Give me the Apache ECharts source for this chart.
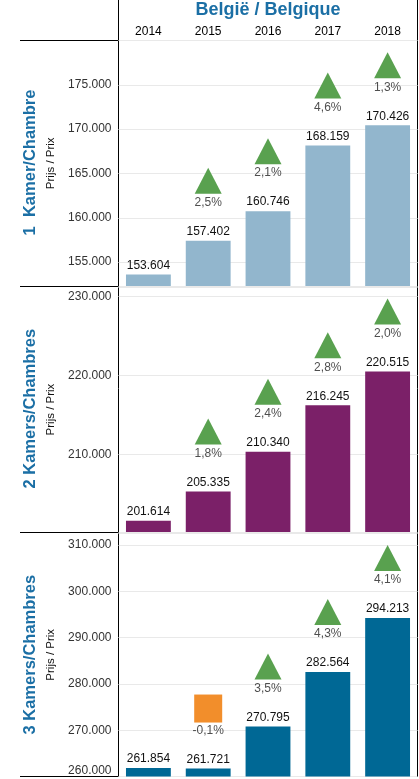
<!DOCTYPE html>
<html>
<head>
<meta charset="utf-8">
<script src="https://cdn.jsdelivr.net/npm/echarts@6/dist/echarts.min.js"></script>
<style>
html,body{margin:0;padding:0;background:#fff;}
#chart{width:419px;height:779px;}
</style>
</head>
<body>
<div id="chart"></div>
<script>
const title = 'België / Belgique';
const years = ['2014', '2015', '2016', '2017', '2018'];
const rowLabels = ['1  Kamer/Chambre', '2 Kamers/Chambres', '3 Kamers/Chambres'];
const axisName = 'Prijs / Prix';

const prices1 = [153604, 157402, 160746, 168159, 170426];
const prices2 = [201614, 205335, 210340, 216245, 220515];
const prices3 = [261854, 261721, 270795, 282564, 294213];

const change1 = [null, 2.5, 2.1, 4.6, 1.3];
const change2 = [null, 1.8, 2.4, 2.8, 2.0];
const change3 = [null, -0.1, 3.5, 4.3, 4.1];

const axisMin = [152300, 200200, 260000];
const axisMax = [180000, 231200, 312600];
const axisStep = [5000, 10000, 10000];

const prices = [prices1, prices2, prices3];
const changes = [change1, change2, change3];
const barColors = ['#92b6cd', '#7b2068', '#006895'];
const upColor = '#59a14f';
const downColor = '#f28e2b';
const titleColor = '#1b6fa5';
const FONT = '"Liberation Sans", Arial, sans-serif';

const panels = [
  {top: 40.5, bottom: 286},
  {top: 287, bottom: 532},
  {top: 533, bottom: 776.5}
];

function fmtNum(v) {
  return String(Math.round(v)).replace(/\B(?=(\d{3})+(?!\d))/g, '.');
}
function fmtPct(p) {
  return p.toFixed(1).replace('.', ',') + '%';
}

const grids = [], xAxes = [], yAxes = [], series = [];
panels.forEach((p, i) => {
  grids.push({left: 118.5, width: 299, top: p.top, height: p.bottom - p.top, containLabel: false});
  xAxes.push({
    gridIndex: i, type: 'category', data: years,
    position: 'top',
    axisLine: {show: false}, axisTick: {show: false}, splitLine: {show: false},
    axisLabel: {show: i === 0, color: '#000', fontSize: 12, margin: 3, fontFamily: FONT}
  });
  yAxes.push({
    gridIndex: i, type: 'value',
    min: axisMin[i], max: axisMax[i],
    minInterval: axisStep[i], maxInterval: axisStep[i],
    axisLine: {show: false}, axisTick: {show: false},
    splitLine: {show: true, lineStyle: {color: '#e9e9e9', width: 1}},
    axisLabel: {
      color: '#333', fontSize: 12, margin: 7, fontFamily: FONT,
      formatter: fmtNum,
      showMinLabel: i === 2, showMaxLabel: false,
      verticalAlignMinLabel: 'bottom'
    },
    name: axisName, nameLocation: 'middle', nameRotate: 90, nameGap: 55,
    nameTextStyle: {fontSize: 11.5, color: '#111', fontFamily: FONT}
  });
  series.push({
    type: 'bar', xAxisIndex: i, yAxisIndex: i,
    data: prices[i], barCategoryGap: '25%',
    itemStyle: {color: barColors[i]},
    label: {show: true, position: 'top', distance: 3, color: '#111', fontSize: 12, fontFamily: FONT, formatter: (d) => fmtNum(d.value)},
    silent: true
  });
  series.push({
    type: 'scatter', xAxisIndex: i, yAxisIndex: i,
    data: prices[i].map((v, k) => {
      const c = changes[i][k];
      if (c === null) return '-';
      const up = c >= 0;
      return {
        value: v,
        symbol: up ? 'triangle' : 'rect',
        symbolSize: up ? [27, 26] : [28, 28],
        itemStyle: {color: up ? upColor : downColor, opacity: 1}
      };
    }),
    symbolOffset: [0, -60],
    itemStyle: {opacity: 1},
    z: 3, silent: true
  });
  series.push({
    type: 'scatter', xAxisIndex: i, yAxisIndex: i,
    data: prices[i].map((v, k) => changes[i][k] === null ? '-' : v),
    symbolSize: 1,
    itemStyle: {color: 'rgba(0,0,0,0)'},
    label: {
      show: true, position: 'inside', offset: [0, -38],
      color: '#222', fontSize: 12, fontFamily: FONT,
      formatter: (d) => fmtPct(changes[i][d.dataIndex])
    },
    z: 4, silent: true
  });
});

const lineStyle = {stroke: '#000', lineWidth: 1};
const graphics = [
  {type: 'line', shape: {x1: 118.5, y1: 0, x2: 118.5, y2: 777}, style: lineStyle, silent: true},
  {type: 'line', shape: {x1: 417.5, y1: 0, x2: 417.5, y2: 777}, style: lineStyle, silent: true},
  {type: 'line', shape: {x1: 20, y1: 40.5, x2: 418, y2: 40.5}, style: lineStyle, silent: true},
  {type: 'line', shape: {x1: 20, y1: 286.5, x2: 418, y2: 286.5}, style: lineStyle, silent: true},
  {type: 'line', shape: {x1: 20, y1: 532.5, x2: 418, y2: 532.5}, style: lineStyle, silent: true},
  {type: 'line', shape: {x1: 20, y1: 776.5, x2: 418, y2: 776.5}, style: lineStyle, silent: true}
];
const rowCenters = [162.5, 408.7, 654.7];
rowLabels.forEach((t, i) => {
  graphics.push({
    type: 'text', x: 30, y: rowCenters[i], rotation: Math.PI / 2,
    style: {text: t, font: 'bold 16.5px ' + FONT, fill: titleColor, align: 'center', verticalAlign: 'middle'},
    silent: true
  });
});

const chart = echarts.init(document.getElementById('chart'), null, {renderer: 'canvas'});
chart.setOption({
  animation: false,
  textStyle: {fontFamily: FONT},
  title: {
    text: title, left: 268, top: 1, textAlign: 'center', padding: 0,
    textStyle: {fontSize: 18, fontWeight: 'bold', color: titleColor, fontFamily: FONT}
  },
  grid: grids,
  xAxis: xAxes,
  yAxis: yAxes,
  series: series,
  graphic: graphics
});
</script>
</body>
</html>
